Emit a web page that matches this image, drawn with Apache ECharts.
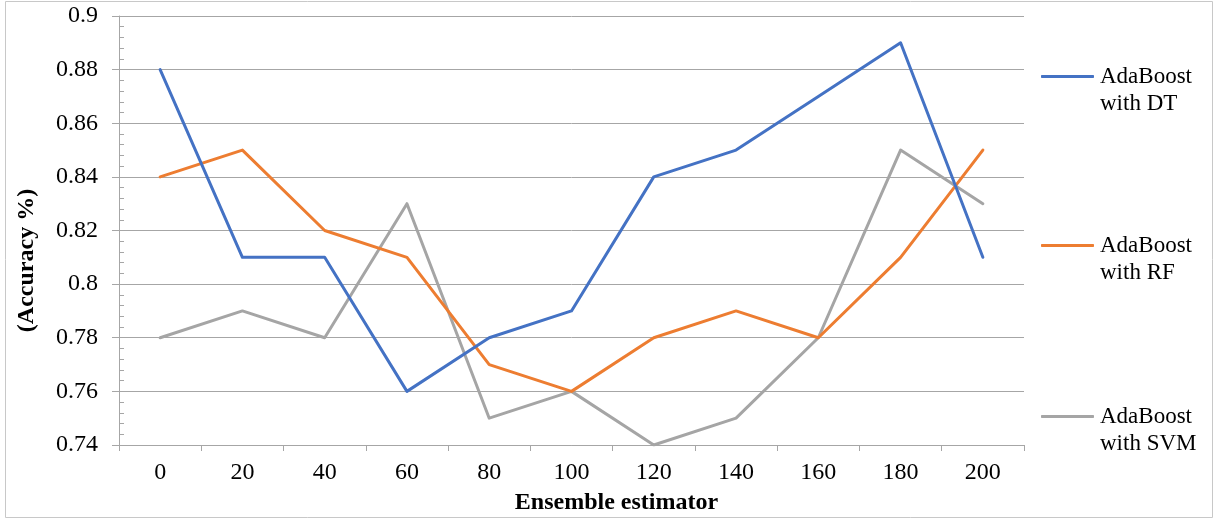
<!DOCTYPE html>
<html>
<head>
<meta charset="utf-8">
<script src="https://cdn.jsdelivr.net/npm/echarts@6/dist/echarts.min.js"></script>
<style>
  html, body { margin: 0; padding: 0; background: #fff; }
  #chart { width: 1215px; height: 520px; }
</style>
</head>
<body>
<div id="chart"></div>
<script>
// Ensemble sizes on the x axis
const estimators = ['0', '20', '40', '60', '80', '100', '120', '140', '160', '180', '200'];

// Accuracy per ensemble size
const adaDT  = [0.88, 0.81, 0.81, 0.76, 0.78, 0.79, 0.84, 0.85, 0.87, 0.89, 0.81];
const adaRF  = [0.84, 0.85, 0.82, 0.81, 0.77, 0.76, 0.78, 0.79, 0.78, 0.81, 0.85];
const adaSVM = [0.78, 0.79, 0.78, 0.83, 0.75, 0.76, 0.74, 0.75, 0.78, 0.85, 0.83];

const seriesNames = ['AdaBoost\nwith DT', 'AdaBoost\nwith RF', 'AdaBoost\nwith SVM'];
const seriesColors = ['#4472C4', '#ED7D31', '#A5A5A5'];
const seriesData = [adaDT, adaRF, adaSVM];

const FONT = 'Liberation Serif';
// one legend block per series, stacked down the right side
const legendBottoms = [398, 229, 58];

const chart = echarts.init(document.getElementById('chart'), null, { renderer: 'canvas' });

chart.setOption({
  animation: false,
  backgroundColor: '#fff',
  textStyle: { fontFamily: FONT },
  grid: { left: 119, right: 191, top: 16, bottom: 75, containLabel: false },
  legend: seriesNames.map((name, i) => ({
    data: [name],
    orient: 'vertical',
    left: 1036,
    bottom: legendBottoms[i],
    itemWidth: 53,
    itemHeight: 3,
    itemGap: 0,
    icon: 'roundRect',
    selectedMode: false,
    // leading empty line keeps the swatch level with the first text line
    formatter: n => '\n' + n,
    textStyle: {
      fontFamily: FONT, fontSize: 23, color: '#000',
      lineHeight: 27, padding: [0, 0, 0, 1]
    }
  })),
  xAxis: {
    type: 'category',
    data: estimators,
    boundaryGap: true,
    name: 'Ensemble estimator',
    nameLocation: 'middle',
    nameGap: 46,
    nameTextStyle: {
      fontFamily: FONT, fontSize: 24, fontWeight: 'bold', color: '#000',
      padding: [0, 0, 0, 90]
    },
    axisLine: { lineStyle: { color: '#A6A6A6', width: 1 } },
    axisTick: { show: true, length: 6, alignWithLabel: false, lineStyle: { color: '#A6A6A6' } },
    axisLabel: { fontFamily: FONT, fontSize: 24, color: '#000', margin: 16 },
    splitLine: { show: false }
  },
  yAxis: [
    {
      type: 'value',
      min: 0.74,
      max: 0.9,
      interval: 0.02,
      name: '(Accuracy %)',
      nameLocation: 'middle',
      nameGap: 80,
      nameRotate: 90,
      nameTextStyle: {
        fontFamily: FONT, fontSize: 24, fontWeight: 'bold', color: '#000',
        padding: [0, 60, 0, 0]
      },
      axisLine: { show: true, lineStyle: { color: '#A6A6A6', width: 1 } },
      axisTick: { show: true, length: 7, lineStyle: { color: '#A6A6A6' } },
      axisLabel: {
        fontFamily: FONT, fontSize: 24, color: '#000', margin: 21,
        formatter: v => String(parseFloat(v.toFixed(2)))
      },
      splitLine: { show: true, lineStyle: { color: '#A6A6A6', width: 1 } }
    },
    {
      // overlay axis carrying the inward minor ticks
      type: 'value',
      min: 0.74,
      max: 0.9,
      interval: 0.02,
      position: 'left',
      axisLine: { show: false },
      axisTick: { show: false, inside: true },
      minorTick: { show: true, splitNumber: 5, length: 5, lineStyle: { color: '#A6A6A6' } },
      axisLabel: { show: false },
      splitLine: { show: false }
    }
  ],
  series: seriesNames.map((name, i) => ({
    name: name,
    type: 'line',
    data: seriesData[i],
    symbol: 'none',
    color: seriesColors[i],
    lineStyle: { color: seriesColors[i], width: 3, cap: 'round', join: 'round' },
    z: 3 - i
  })),
  graphic: [{
    type: 'rect',
    shape: { x: 5.5, y: 1.5, width: 1207, height: 516 },
    style: { fill: 'none', stroke: '#C8C8C8', lineWidth: 1 },
    silent: true,
    z: -10
  }]
});
</script>
</body>
</html>
